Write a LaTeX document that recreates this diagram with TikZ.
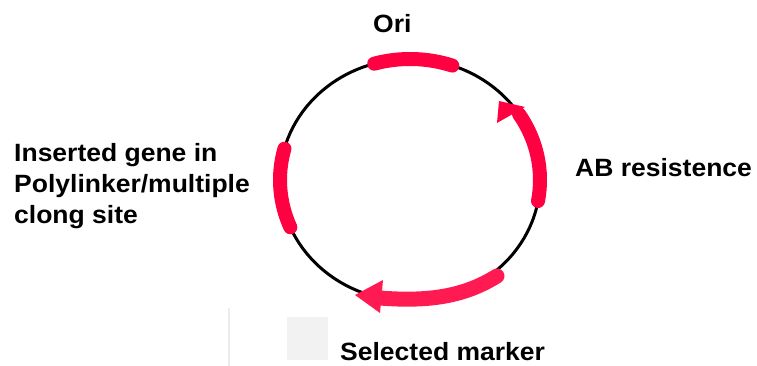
\documentclass[tikz,border=0pt]{standalone}
\usepackage{fontspec}
\setmainfont[FakeStretch=1.06]{Liberation Sans}
\definecolor{plasred}{HTML}{FF0040}
\definecolor{plaspink}{HTML}{FF1A52}
\definecolor{boxgray}{HTML}{F2F2F2}
\definecolor{rulegray}{HTML}{ECECEC}
\begin{document}
\begin{tikzpicture}[x=1pt,y=1pt,
  backbone/.style={line width=3pt,black},
  segment/.style={line width=14pt,plasred,line cap=round},
  label/.style={font=\bfseries\fontsize{25}{31}\selectfont,inner sep=0pt,anchor=base west,align=left}]
\useasboundingbox (0,0) rectangle (757,366);
% plasmid backbone
\coordinate (c) at (410,186);
\draw[backbone] (c) ellipse [x radius=130pt, y radius=121pt];
% origin of replication
\draw[segment] (c) ++(71:130pt and 121pt) arc[start angle=71, end angle=106, x radius=130pt, y radius=121pt];
% insertion site
\draw[segment] (c) ++(165:130pt and 121pt) arc[start angle=165, end angle=203, x radius=130pt, y radius=121pt];
% resistance gene, counter-clockwise
\draw[segment] (c) ++(-10:130pt and 121pt) arc[start angle=-10, end angle=33, x radius=130pt, y radius=121pt];
\fill[plasred] (499,265) -- (525,259) -- (497,243) -- cycle;
% selection marker, clockwise
\coordinate (m0) at (497,90);
\coordinate (m1) at (380,68);
\draw[line width=15pt,plaspink,line cap=round] (m0) .. controls (465,70) and (430,64) .. (m1);
\fill[plaspink] (355,71) -- (383,86) -- (380,53) -- cycle;
% legend remnants
\draw[rulegray,line width=1.5pt] (229,0) -- (229,58);
\fill[boxgray] (287,6) rectangle (328,49);
% labels (a multi-line node sits on the baseline of its last line)
\node[label] (ori) at (373,333) {Ori};
\node[label] (ab) at (575,189) {AB resistence};
\node[label] (ins) at (14,142) {Inserted gene in\\Polylinker/multiple\\clong site};
\node[label] (sel) at (340,5) {Selected marker};
\end{tikzpicture}
\end{document}
